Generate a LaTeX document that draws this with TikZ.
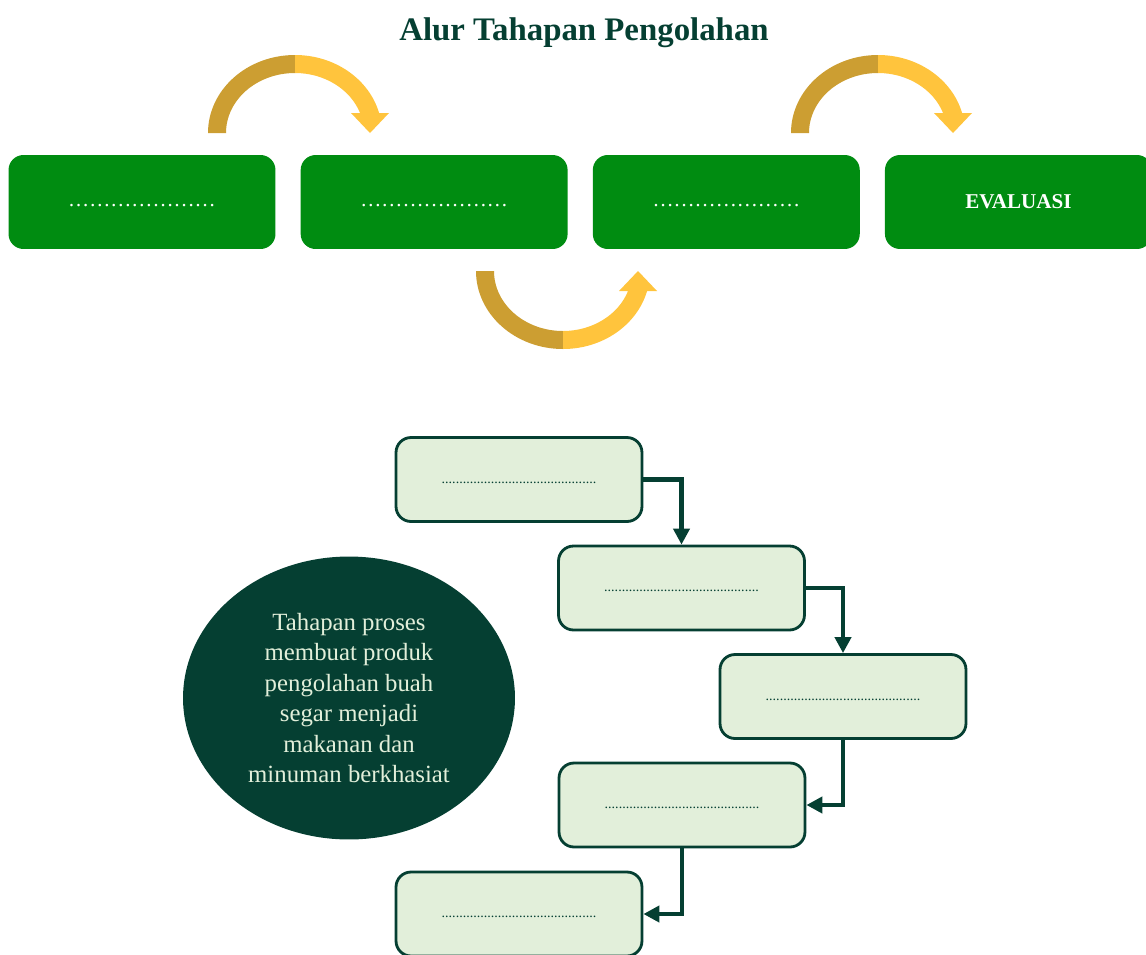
\documentclass[tikz,border=0pt]{standalone}
\usepackage{fontspec}
\setmainfont{Liberation Serif}
\usetikzlibrary{positioning}
\usetikzlibrary{shapes.geometric}
\usetikzlibrary{arrows.meta}

\definecolor{hijaubox}{RGB}{0,140,17}
\definecolor{hijautua}{RGB}{5,63,50}
\definecolor{hijaumuda}{RGB}{226,239,218}
\definecolor{emas}{RGB}{204,158,50}
\definecolor{kuning}{RGB}{255,196,61}

\newcommand{\titikatas}{\strut…………………}
\newcommand{\titikbawah}{\strut............................................}

\tikzset{
  kotakatas/.style={rectangle, rounded corners=0.3cm, fill=hijaubox, text=white,
    minimum width=5.34cm, minimum height=1.88cm, inner sep=0pt,
    font=\fontsize{12}{14}\selectfont},
  kotakbawah/.style={rectangle, rounded corners=0.3cm, draw=hijautua, line width=1.6pt,
    fill=hijaumuda, text=hijautua, minimum width=4.92cm, minimum height=1.68cm,
    inner sep=0pt, font=\fontsize{8}{10}\selectfont},
  panah/.style={draw=hijautua, line width=0.095cm, -{Triangle[length=0.32cm,width=0.32cm]}},
  lengkung/.pic={
    \fill[emas] (0,0) arc[start angle=180,end angle=90,x radius=87,y radius=78]
      -- (87,60) arc[start angle=90,end angle=180,x radius=69,y radius=60] -- cycle;
    \fill[kuning] (87,78) arc[start angle=90,end angle=14.86,x radius=87,y radius=78]
      -- (181,20) -- (162,0) -- (143,20) -- (152.05,20)
      arc[start angle=19.47,end angle=90,x radius=69,y radius=60] -- cycle;
  }
}

\begin{document}
\begin{tikzpicture}[x=0.02cm,y=0.02cm]
                    \useasboundingbox (0,0) rectangle (1146,-954);

                    \node[text=hijautua, anchor=base, font=\fontsize{18.7}{22}\selectfont\bfseries] (judul) at (584,-40) {Alur Tahapan Pengolahan};

                    \node[kotakatas] (tahap1) at (142,-202) {\titikatas};
                    \node[kotakatas, right=0.49cm of tahap1] (tahap2) {\titikatas};
                    \node[kotakatas, right=0.49cm of tahap2] (tahap3) {\titikatas};
                    \node[kotakatas, right=0.49cm of tahap3, font=\fontsize{12}{14}\selectfont\bfseries] (evaluasi) {EVALUASI};

                    \pic at (208,-133) {lengkung};
                    \pic at (791,-133) {lengkung};
                    \pic[yscale=-1] at (476,-271) {lengkung};

                    \node[ellipse, fill=hijautua, text=hijaumuda, minimum width=6.64cm, minimum height=5.66cm, align=center, font=\fontsize{14.1}{17.3}\selectfont] (ket) at (349,-698) {Tahapan proses\\membuat produk\\pengolahan buah\\segar menjadi\\makanan dan\\minuman berkhasiat};

                    \node[kotakbawah] (isi1) at (519,-479.5) {\titikbawah};
                    \node[kotakbawah] (isi2) at (681.5,-588) {\titikbawah};
                    \node[kotakbawah] (isi3) at (843,-696.5) {\titikbawah};
                    \node[kotakbawah] (isi4) at (682,-805) {\titikbawah};
                    \node[kotakbawah] (isi5) at (519,-914) {\titikbawah};

                    \draw[panah] (isi1.east) -| (isi2.north);
                    \draw[panah] (isi2.east) -| (isi3.north);
                    \draw[panah] (isi3.south) |- (isi4.east);
                    \draw[panah] (isi4.south) |- (isi5.east);
                \end{tikzpicture}
\end{document}
